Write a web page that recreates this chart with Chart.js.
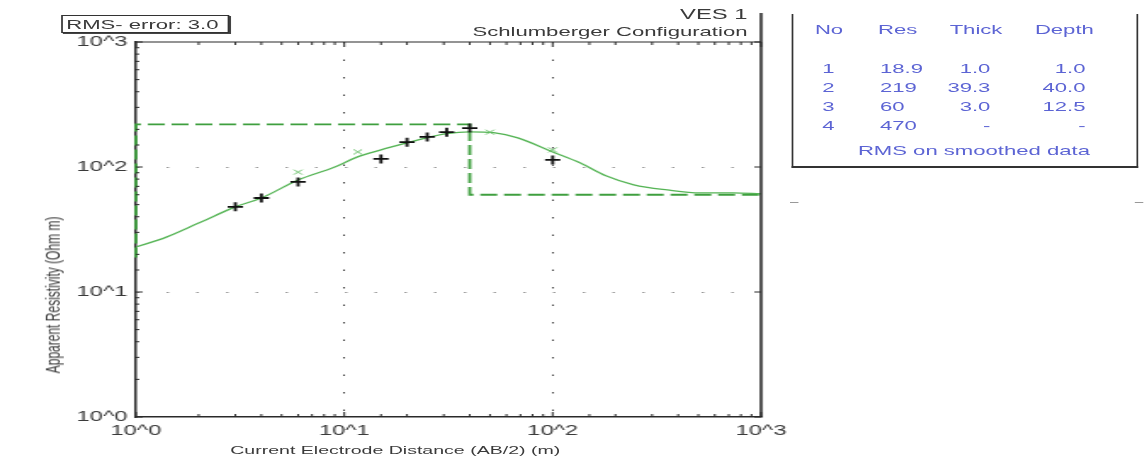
<!DOCTYPE html>
<html><head><meta charset="utf-8">
<script src="https://cdn.jsdelivr.net/npm/chart.js@4.4.0/dist/chart.umd.min.js"></script>
<style>
html,body{margin:0;padding:0;background:#fff;overflow:hidden;width:1145px;height:465px;}
#wrap{position:absolute;left:0;top:0;width:674px;height:465px;transform:scaleX(1.6988);transform-origin:0 0;font-family:"Liberation Sans",Arial,sans-serif;}
#c{position:absolute;left:0;top:0;}
.t{position:absolute;white-space:nowrap;line-height:1;}
#tbl .t{font-size:13px;color:#5c64d4;}
</style></head><body>
<div id="wrap">
<canvas id="c" width="674" height="465"></canvas>
<div class="t" style="left:36px;top:15px;width:99px;height:18px;box-sizing:border-box;border:1px solid #333;box-shadow:1px 1px 0 #444;font-size:13px;color:#3a3a3a;padding:2px 0 0 2px;">RMS- error: 3.0</div>
<div class="t" style="right:234px;top:7px;font-size:14px;color:#3a3a3a;">VES 1</div>
<div class="t" style="right:234px;top:25px;font-size:13px;color:#3a3a3a;">Schlumberger Configuration</div>
<div class="t" style="left:31px;top:295px;font-size:12px;color:#3a3a3a;transform:translate(-50%,-50%) rotate(-90deg);">Apparent Resistivity (Ohm m)</div>
<div class="t" style="left:135.5px;top:445px;font-size:11.5px;color:#3a3a3a;">Current Electrode Distance (AB/2) (m)</div>
<div id="tbl"></div>
<div style="position:absolute;left:466px;top:14px;width:204px;height:154px;box-sizing:border-box;border-left:1.5px solid #333;border-right:1.5px solid #333;border-bottom:2px solid #333;"></div>
<div style="position:absolute;left:465px;top:202px;width:5px;height:1px;background:#999;"></div>
<div style="position:absolute;left:668px;top:202px;width:5px;height:1px;background:#999;"></div>
</div>
<script>
// ---- data ----
const obsDistance = [3, 4, 6, 15, 20, 25, 31, 40, 100];
const obsResistivity = [48, 56.5, 76, 116, 158, 174, 190, 205, 114];
const calcDistance = [6, 11.6, 50, 100];
const calcResistivity = [91, 132, 190, 137];
const curveDistance = [1, 1.4, 2, 3, 4, 6, 9, 11.5, 15, 20, 25, 31, 40, 52, 68, 100, 135, 180, 245, 355, 510, 735, 1000];
const curveResistivity = [22.9, 27.5, 35.6, 48, 56.5, 78.7, 100, 120, 137, 156, 172, 185, 191, 188, 171, 132, 108, 85, 72, 65.5, 62, 62, 61];
const modelDistance = [1, 1, 40, 40, 1000];
const modelResistivity = [18.9, 219, 219, 60, 60];
const tickLabels = ['10^0', '10^1', '10^2', '10^3'];
const tableHeader = ['No', 'Res', 'Thick', 'Depth'];
const layerNo = ['1', '2', '3', '4'];
const layerRes = ['18.9', '219', '60', '470'];
const layerThick = ['1.0', '39.3', '3.0', '-'];
const layerDepth = ['1.0', '40.0', '12.5', '-'];
const tableNote = 'RMS on smoothed data';

// ---- table (html text) ----
(function(){
  const tbl = document.getElementById('tbl');
  const add = (txt, css) => { const d = document.createElement('div'); d.className = 't'; d.textContent = txt; d.style.cssText += css; tbl.appendChild(d); };
  const hx = [479.7, 516.8, 559, 609.2];
  tableHeader.forEach((h, i) => add(h, `left:${hx[i]}px;top:22.7px;`));
  const rowTop = [61.7, 80.9, 100.1, 119.3];
  layerNo.forEach((v, i) => {
    add(v, `left:484px;top:${rowTop[i]}px;`);
    add(layerRes[i], `left:518px;top:${rowTop[i]}px;`);
    add(layerThick[i], `right:${674-583}px;top:${rowTop[i]}px;`);
    add(layerDepth[i], `right:${674-639}px;top:${rowTop[i]}px;`);
  });
  add(tableNote, 'left:505px;top:143.7px;');
})();

const isDecade = v => Math.abs(Math.log10(v) - Math.round(Math.log10(v))) < 1e-9;
const labelFor = v => isDecade(v) ? tickLabels[Math.round(Math.log10(v))] : '';
const pts = (xs, ys) => xs.map((x, i) => ({x, y: ys[i]}));

const framePlugin = {
  id: 'frame',
  afterDraw(chart) {
    const {ctx, chartArea: a, scales: {x, y}} = chart;
    ctx.save();
    ctx.strokeStyle = '#2a2a2a';
    ctx.lineWidth = 1.2;
    ctx.beginPath(); ctx.moveTo(a.left, a.top); ctx.lineTo(a.right, a.top); ctx.stroke();
    ctx.lineWidth = 1.6;
    ctx.beginPath(); ctx.moveTo(a.right, 13); ctx.lineTo(a.right, a.bottom); ctx.stroke();
    ctx.lineWidth = 1;
    x.ticks.forEach(t => {
      const px = x.getPixelForValue(t.value);
      const len = isDecade(t.value) ? 5 : 3;
      ctx.beginPath();
      ctx.moveTo(px, a.bottom); ctx.lineTo(px, a.bottom - len);
      ctx.moveTo(px, a.top); ctx.lineTo(px, a.top + len);
      ctx.stroke();
    });
    y.ticks.forEach(t => {
      const py = y.getPixelForValue(t.value);
      const major = isDecade(t.value);
      ctx.beginPath();
      ctx.moveTo(a.left, py); ctx.lineTo(a.left + (major ? 4 : 2), py);
      if (major) { ctx.moveTo(a.right, py); ctx.lineTo(a.right - 4, py); }
      ctx.stroke();
    });
    ctx.restore();
  }
};

const tickFont = {family: "'Liberation Sans', Arial, sans-serif", size: 14};

new Chart(document.getElementById('c'), {
  type: 'scatter',
  data: {
    datasets: [
      {label: 'Model', data: pts(modelDistance, modelResistivity), showLine: true, borderColor: '#3f9f3f', borderWidth: 1.8, borderDash: [10, 4], pointRadius: 0, fill: false, order: 3, clip: 4},
      {label: 'Fit', data: pts(curveDistance, curveResistivity), showLine: true, borderColor: '#55b455', borderWidth: 1.3, pointRadius: 0, cubicInterpolationMode: 'monotone', fill: false, order: 2},
      {label: 'Calculated', data: pts(calcDistance, calcResistivity), pointStyle: 'crossRot', pointRadius: 3.5, borderColor: '#6cc06c', backgroundColor: '#6cc06c', borderWidth: 1, order: 1},
      {label: 'Observed', data: pts(obsDistance, obsResistivity), pointStyle: 'cross', pointRadius: 4.5, borderColor: '#111', backgroundColor: '#111', borderWidth: 1.8, order: 0}
    ]
  },
  options: {
    responsive: false, animation: false, devicePixelRatio: 1,
    layout: {padding: {top: 42, right: 226, left: 0, bottom: 0}},
    plugins: {legend: {display: false}, tooltip: {enabled: false}},
    scales: {
      x: {
        type: 'logarithmic', min: 1, max: 1000, position: 'bottom',
        afterFit(s) { s.height = 48; },
        grid: {drawTicks: false, lineWidth: 1, color: c => (c.tick && isDecade(c.tick.value) && c.tick.value > 1 && c.tick.value < 1000) ? '#444' : 'rgba(0,0,0,0)'},
        border: {display: true, color: '#2a2a2a', width: 1.5, dash: [1.5, 16]},
        ticks: {autoSkip: false, maxRotation: 0, minRotation: 0, padding: 6, color: '#3a3a3a', font: tickFont, callback: v => labelFor(v)}
      },
      y: {
        type: 'logarithmic', min: 1, max: 1000, position: 'left',
        afterFit(s) { s.width = 80; },
        grid: {drawTicks: false, lineWidth: 1, color: c => (c.tick && isDecade(c.tick.value) && c.tick.value > 1 && c.tick.value < 1000) ? '#999' : 'rgba(0,0,0,0)'},
        border: {display: true, color: '#2a2a2a', width: 1.5, dash: [1.5, 16]},
        ticks: {autoSkip: false, padding: 5, color: '#3a3a3a', font: tickFont, callback: v => labelFor(v)}
      }
    }
  },
  plugins: [framePlugin]
});
</script>
</body></html>
